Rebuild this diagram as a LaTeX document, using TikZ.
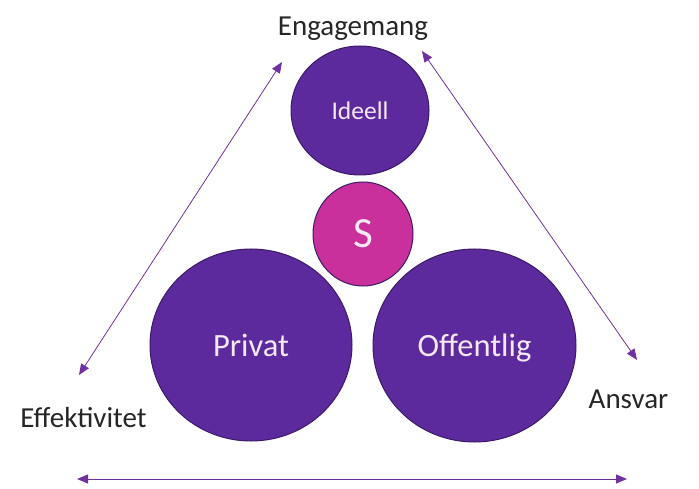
\documentclass[tikz,border=0pt]{standalone}
\usepackage{fontspec}
\setmainfont{Carlito}
\usetikzlibrary{arrows.meta, shapes.geometric}
\definecolor{sectorpurple}{HTML}{5C2A9D}
\definecolor{sectoredge}{HTML}{3C1A6A}
\definecolor{spink}{HTML}{C9309B}
\definecolor{arrowpurple}{HTML}{7030A0}
\definecolor{labelgray}{HTML}{262626}
\definecolor{circletext}{HTML}{F5E8F5}

\begin{document}
\begin{tikzpicture}[x=1pt, y=-1pt,
    sector/.style={ellipse, draw=sectoredge, line width=1pt, fill=sectorpurple, text=circletext, inner sep=0pt, text depth=0pt},
    axislabel/.style={anchor=base, font=\fontsize{29}{33}\selectfont, text=labelgray},
    axisarrow/.style={arrowpurple, line width=0.8pt, {Triangle[length=11pt, width=9pt]}-{Triangle[length=11pt, width=9pt]}}]
    \useasboundingbox (0,0) rectangle (699,489);
    % sectors
    \node[sector, minimum width=138pt, minimum height=129pt, font=\fontsize{25.5}{30}\selectfont] (ideell) at (360,110.5) {Ideell};
    \node[sector, fill=spink, minimum width=100pt, minimum height=104pt, font=\fontsize{43}{50}\selectfont] (s) at (363,234) {S};
    \node[sector, minimum width=202pt, minimum height=192pt, font=\fontsize{32.5}{38}\selectfont] (privat) at (251,345) {Privat};
    \node[sector, minimum width=203pt, minimum height=193pt, font=\fontsize{32.5}{38}\selectfont] (offentlig) at (474.5,345.5) {Offentlig};
    % labels
    \node[axislabel] (engagemang) at (353,36) {Engagemang};
    \node[axislabel] (effektivitet) at (83.5,427) {Effektivitet};
    \node[axislabel] (ansvar) at (628.5,408) {Ansvar};
    % arrow ends
    \coordinate (effTop) at (79,375);
    \coordinate (engLeft) at (282,62);
    \coordinate (engRight) at (422,51);
    \coordinate (ansTop) at (637,360);
    \coordinate (baseLeft) at (77,479);
    \coordinate (baseRight) at (627,479);
    \draw[axisarrow] (effTop) -- (engLeft);
    \draw[axisarrow] (engRight) -- (ansTop);
    \draw[axisarrow] (baseLeft) -- (baseRight);
\end{tikzpicture}
\end{document}
